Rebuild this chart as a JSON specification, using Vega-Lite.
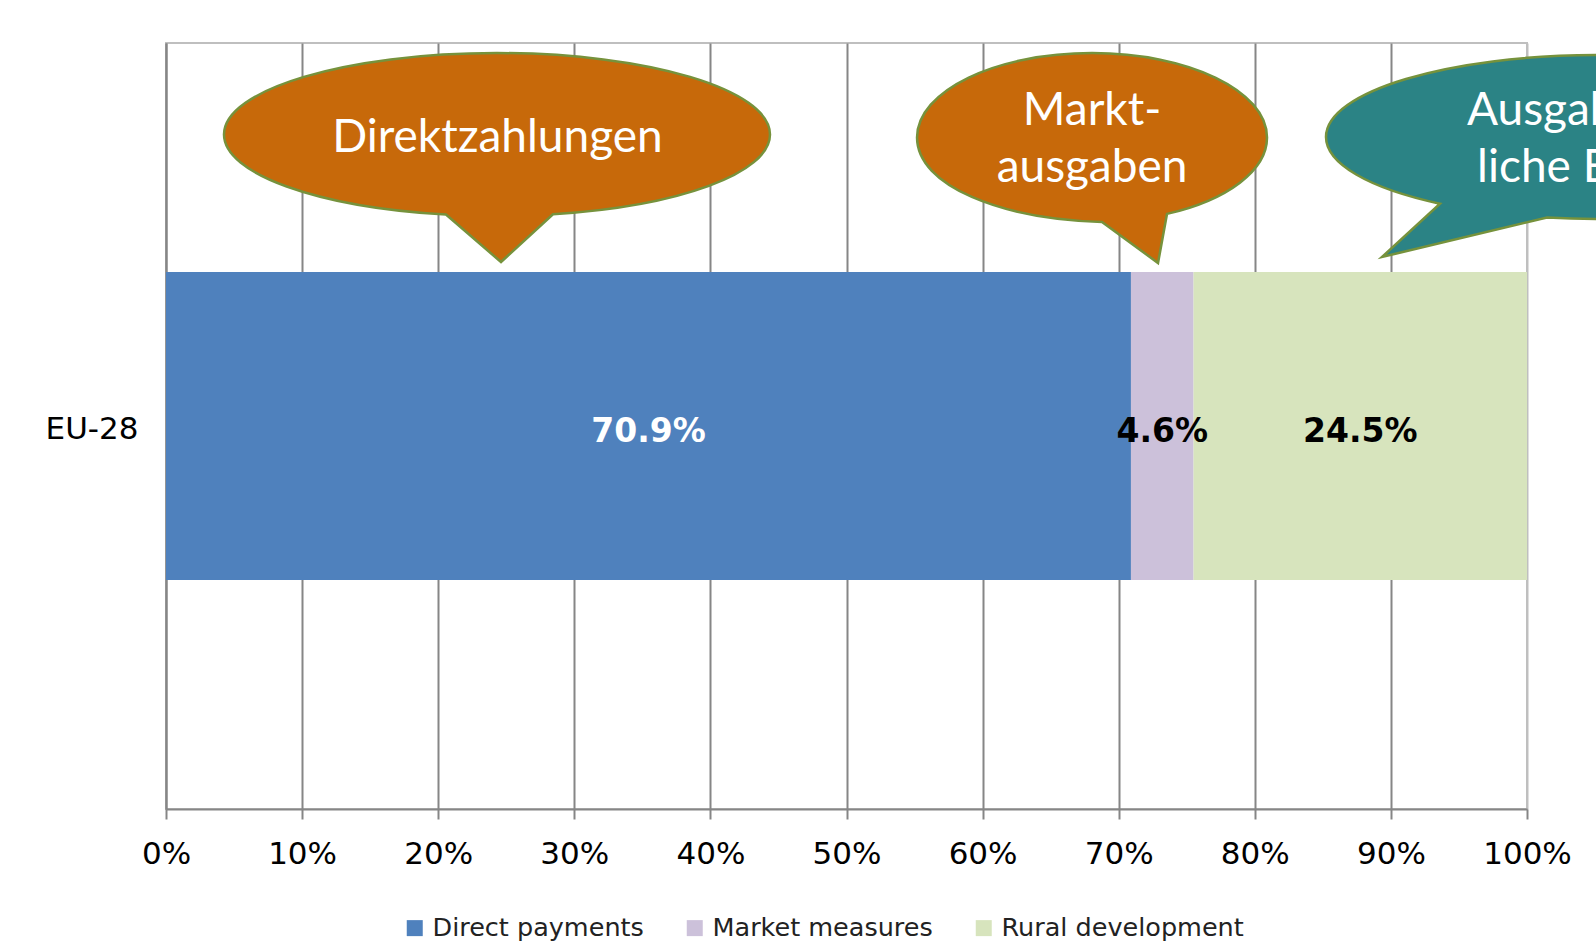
{
  "$schema": "https://vega.github.io/schema/vega-lite/v6.json",
  "width": 1361,
  "height": 766,
  "autosize": {"type": "none"},
  "padding": {"left": 166, "top": 43, "right": 69, "bottom": 142},
  "background": "white",
  "config": {"view": {"stroke": "#BFBFBF", "strokeWidth": 2}},
  "datasets": {
    "spending": [
      {"region": "EU-28", "category": "Direct payments", "share": 0.709},
      {"region": "EU-28", "category": "Market measures", "share": 0.046},
      {"region": "EU-28", "category": "Rural development", "share": 0.245}
    ],
    "callout_centered": [
      {"label": "Direktzahlungen", "pos": 0.2435, "level": 85.77},
      {"label": "Markt-\nausgaben", "pos": 0.6804, "level": 89.3}
    ],
    "callout_left": [
      {"label": "Ausgaben für länd-", "pos": 0.9559, "level": 89.3},
      {"label": "liche Entwicklung", "pos": 0.9633, "level": 81.85}
    ]
  },
  "layer": [
    {
      "data": {"name": "spending"},
      "layer": [
        {
          "mark": {"type": "bar"},
          "encoding": {
            "y": {
              "field": "region",
              "type": "nominal",
              "scale": {"paddingInner": 0.598, "paddingOuter": 0.299},
              "axis": {
                "title": null,
                "domainColor": "#868686",
                "domainWidth": 2,
                "ticks": false,
                "labelFont": "DejaVu Sans",
                "labelFontSize": 31,
                "labelColor": "black",
                "labelPadding": 28,
                "labelOffset": 4,
                "grid": false
              }
            },
            "x": {
              "field": "share",
              "type": "quantitative",
              "stack": "zero",
              "scale": {"domain": [0, 1], "nice": false},
              "axis": {
                "title": null,
                "values": [0, 0.1, 0.2, 0.3, 0.4, 0.5, 0.6, 0.7, 0.8, 0.9, 1],
                "format": ".0%",
                "labelFont": "DejaVu Sans",
                "labelFontSize": 31,
                "labelColor": "black",
                "labelPadding": 20,
                "labelFlush": false,
                "tickSize": 10,
                "tickColor": "#868686",
                "tickWidth": 2,
                "domainColor": "#868686",
                "domainWidth": 2,
                "grid": true,
                "gridColor": {"condition": {"test": "datum.value === 1", "value": "#BFBFBF"}, "value": "#868686"},
                "gridWidth": 2
              }
            },
            "order": {"field": "category", "type": "nominal", "sort": "ascending"},
            "color": {
              "field": "category",
              "type": "nominal",
              "scale": {
                "domain": ["Direct payments", "Market measures", "Rural development"],
                "range": ["#4F81BD", "#CCC1DA", "#D7E4BD"]
              },
              "legend": {
                "title": null,
                "orient": "none",
                "legendX": 236,
                "legendY": 872,
                "direction": "horizontal",
                "symbolType": "square",
                "symbolSize": 256,
                "symbolStrokeWidth": 0,
                "labelFont": "DejaVu Sans",
                "labelFontSize": 25.5,
                "labelColor": "#222222",
                "labelOffset": 5,
                "columnPadding": 38,
                "padding": 0,
                "labelLimit": 400
              }
            }
          }
        },
        {
          "mark": {"type": "text", "font": "DejaVu Sans", "fontSize": 33, "fontWeight": "bold", "baseline": "alphabetic", "dy": 16},
          "encoding": {
            "y": {"field": "region", "type": "nominal"},
            "x": {"field": "share", "type": "quantitative", "stack": "zero", "bandPosition": 0.5},
            "detail": {"field": "category"},
            "order": {"field": "category", "type": "nominal", "sort": "ascending"},
            "text": {"field": "share", "type": "quantitative", "format": ".1%"},
            "color": {"condition": {"test": "datum.category === 'Direct payments'", "value": "white"}, "value": "black"}
          }
        }
      ]
    },
    {
      "layer": [
        {
          "data": {"values": [{"callout": "Direktzahlungen"}]},
          "mark": {
            "type": "point",
            "shape": "M 0.2050 0.2922 C 0.6682 0.2632 1 0.1413 1 0 C 1 -0.1649 0.5523 -0.2985 0 -0.2985 C -0.5523 -0.2985 -1 -0.1649 -1 0 C -1 0.1434 -0.6587 0.2664 -0.1869 0.2932 L 0.0147 0.467 Z",
            "size": 298116,
            "filled": true,
            "fill": "#C7690A",
            "stroke": "#76923C",
            "strokeWidth": 2.5,
            "opacity": 1
          },
          "encoding": {
            "x": {"datum": 0.2432, "type": "quantitative", "scale": {"domain": [0, 1], "nice": false}},
            "y": {"datum": 88.05, "type": "quantitative", "scale": {"domain": [0, 100], "nice": false}, "axis": null}
          }
        },
        {
          "data": {"values": [{"callout": "Marktausgaben"}]},
          "mark": {
            "type": "point",
            "shape": "M 0.4286 0.4363 C 0.7776 0.3563 1 0.1865 1 0 C 1 -0.2667 0.5523 -0.4829 0 -0.4829 C -0.5523 -0.4829 -1 -0.2667 -1 0 C -1 0.2776 -0.5169 0.4663 0.0570 0.4821 L 0.3771 0.7171 Z",
            "size": 122500,
            "filled": true,
            "fill": "#C7690A",
            "stroke": "#76923C",
            "strokeWidth": 2.5,
            "opacity": 1
          },
          "encoding": {
            "x": {"datum": 0.6804, "type": "quantitative", "scale": {"domain": [0, 1], "nice": false}},
            "y": {"datum": 87.66, "type": "quantitative", "scale": {"domain": [0, 100], "nice": false}, "axis": null}
          }
        },
        {
          "data": {"values": [{"callout": "Ländliche Entwicklung"}]},
          "mark": {
            "type": "point",
            "shape": "M -0.1905 0.2949 C -0.1278 0.2986 -0.0639 0.3004 0 0.3004 C 0.5523 0.3004 1 0.1659 1 0 C 1 -0.1659 0.5523 -0.3004 0 -0.3004 C -0.5523 -0.3004 -1 -0.1659 -1 0 C -1 0.0968 -0.8445 0.1878 -0.5824 0.2442 L -0.7949 0.4396 Z",
            "size": 298116,
            "filled": true,
            "fill": "#2B8385",
            "stroke": "#76923C",
            "strokeWidth": 2.5,
            "opacity": 1
          },
          "encoding": {
            "x": {"datum": 1.0529, "type": "quantitative", "scale": {"domain": [0, 1], "nice": false}},
            "y": {"datum": 87.73, "type": "quantitative", "scale": {"domain": [0, 100], "nice": false}, "axis": null}
          }
        },
        {
          "data": {"name": "callout_centered"},
          "mark": {"type": "text", "font": "Lato", "fontSize": 46, "color": "white", "align": "center", "baseline": "alphabetic", "lineBreak": "\n", "lineHeight": 57},
          "encoding": {
            "x": {"field": "pos", "type": "quantitative", "scale": {"domain": [0, 1], "nice": false}},
            "y": {"field": "level", "type": "quantitative", "scale": {"domain": [0, 100], "nice": false}, "axis": null},
            "text": {"field": "label"}
          }
        },
        {
          "data": {"name": "callout_left"},
          "mark": {"type": "text", "font": "Lato", "fontSize": 46, "color": "white", "align": "left", "baseline": "alphabetic"},
          "encoding": {
            "x": {"field": "pos", "type": "quantitative", "scale": {"domain": [0, 1], "nice": false}},
            "y": {"field": "level", "type": "quantitative", "scale": {"domain": [0, 100], "nice": false}, "axis": null},
            "text": {"field": "label"}
          }
        }
      ]
    }
  ],
  "resolve": {"scale": {"y": "independent"}}
}
